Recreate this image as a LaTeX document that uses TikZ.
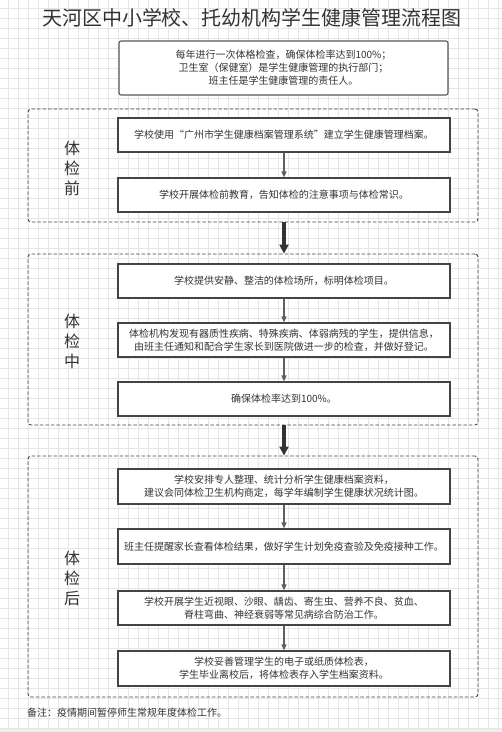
\documentclass[tikz,border=0pt]{standalone}
\usepackage{fontspec}
\setmainfont{Noto Sans CJK SC}
\usetikzlibrary{arrows.meta}
\definecolor{txt}{HTML}{333333}
\definecolor{gridc}{HTML}{E6E6E6}
\definecolor{edge}{HTML}{444444}
\definecolor{band}{HTML}{EEEEEE}
\tikzset{
  x=1pt, y=-1pt,
  gridline/.style={draw=gridc, line width=0.8pt},
  stepbox/.style={draw=edge, line width=1.1pt, fill=white, minimum width=332pt, minimum height=34pt,
    align=center, inner sep=2pt, text=txt, font=\fontsize{10}{13}\selectfont},
  topbox/.style={stepbox, rounded corners=2pt, minimum width=329pt, minimum height=54pt, draw=edge!90},
  groupbox/.style={draw=edge, dashed, dash pattern=on 3.5pt off 2pt, line width=0.9pt, rounded corners=3pt,
    minimum width=450pt, inner sep=0pt},
  sidelabel/.style={text=txt, font=\fontsize{16}{20}\selectfont, align=center},
  smallarrow/.style={draw=edge!85, line width=1.3pt, -{Triangle[width=5pt,length=6pt]}},
  bigarrow/.style={draw=txt, line width=4pt, -{Triangle[width=9pt,length=9pt]}},
}
\begin{document}
\begin{tikzpicture}
\useasboundingbox (0,0) rectangle (502,732);
\fill[white] (0,0) rectangle (502,732);
\fill[band] (0,728) rectangle (502,732);
\foreach \i in {0,...,49} {\draw[gridline] ({8+10*\i},0) -- ({8+10*\i},728);}
\foreach \i in {0,...,72} {\draw[gridline] (0,{8+10*\i}) -- (502,{8+10*\i});}

\node[text=txt, font=\fontsize{20}{24}\selectfont] (title) at (252,18) {天河区中小学校、托幼机构学生健康管理流程图};

\node[topbox] (top) at (283.5,68) {每年进行一次体格检查，确保体检率达到100\%；\\卫生室（保健室）是学生健康管理的执行部门；\\班主任是学生健康管理的责任人。};

% groups
\node[groupbox, minimum height=113pt] (g1) at (253,165.5) {};
\node[groupbox, minimum height=171pt] (g2) at (253,339.5) {};
\node[groupbox, minimum height=241pt] (g3) at (253,576.5) {};

\node[sidelabel] (l1) at (72,168) {体\\检\\前};
\node[sidelabel] (l2) at (72,341) {体\\检\\中};
\node[sidelabel] (l3) at (72,578) {体\\检\\后};

% steps
\node[stepbox] (b1a) at (284,135) {学校使用“广州市学生健康档案管理系统”建立学生健康管理档案。};
\node[stepbox] (b1b) at (284,195) {学校开展体检前教育，告知体检的注意事项与体检常识。};
\node[stepbox] (b2a) at (284,281) {学校提供安静、整洁的体检场所，标明体检项目。};
\node[stepbox] (b2b) at (284,340) {体检机构发现有器质性疾病、特殊疾病、体弱病残的学生，提供信息，\\由班主任通知和配合学生家长到医院做进一步的检查，并做好登记。};
\node[stepbox] (b2c) at (284,399) {确保体检率达到100\%。};
\node[stepbox, minimum height=35pt] (b3a) at (284,486.5) {学校安排专人整理、统计分析学生健康档案资料，\\建议会同体检卫生机构商定，每学年编制学生健康状况统计图。};
\node[stepbox, minimum height=35pt] (b3b) at (284,546.5) {班主任提醒家长查看体检结果，做好学生计划免疫查验及免疫接种工作。};
\node[stepbox] (b3c) at (284,608) {学校开展学生近视眼、沙眼、龋齿、寄生虫、营养不良、贫血、\\脊柱弯曲、神经衰弱等常见病综合防治工作。};
\node[stepbox, minimum height=35pt] (b3d) at (284,668.5) {学校妥善管理学生的电子或纸质体检表，\\学生毕业离校后，将体检表存入学生档案资料。};

\node[anchor=west, text=txt, font=\fontsize{10}{12}\selectfont, inner sep=0pt] (note) at (27,713) {备注：疫情期间暂停师生常规年度体检工作。};

% arrows
\draw[smallarrow] (b1a) -- (b1b);
\draw[smallarrow] (b2a) -- (b2b);
\draw[smallarrow] (b2b) -- (b2c);
\draw[smallarrow] (b3a) -- (b3b);
\draw[smallarrow] (b3b) -- (b3c);
\draw[smallarrow] (b3c) -- (b3d);
\draw[bigarrow] (g1.south -| b1b) -- (g2.north -| b1b);
\draw[bigarrow] (g2.south -| b2c) -- (g3.north -| b2c);
\end{tikzpicture}
\end{document}
